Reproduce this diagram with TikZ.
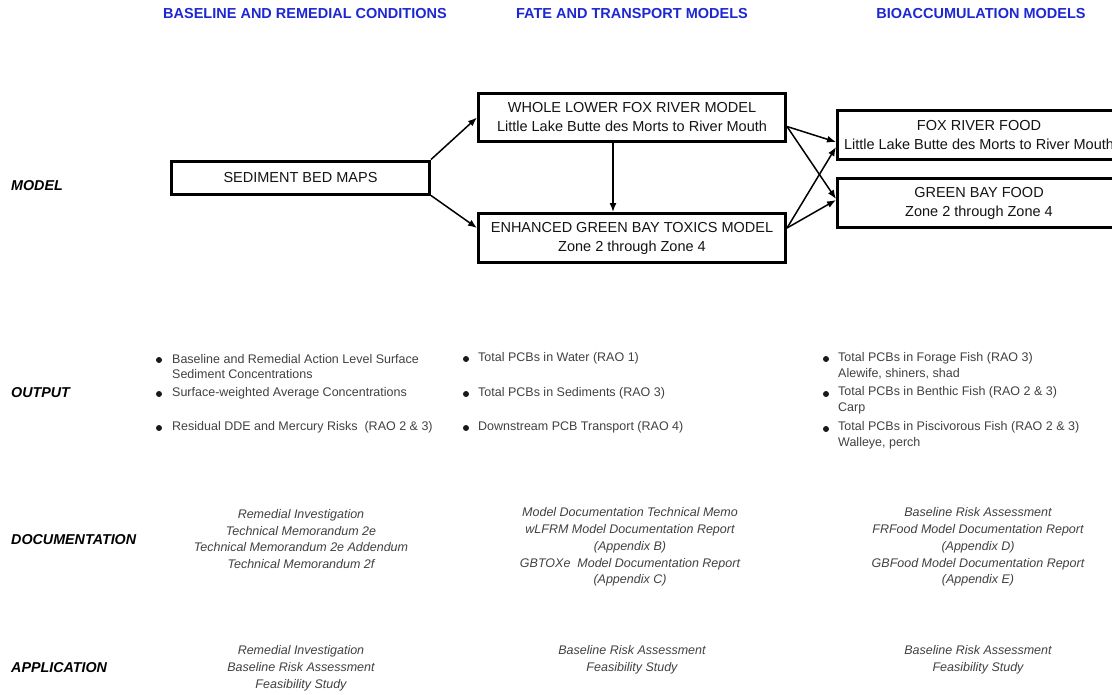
\documentclass[tikz,border=0pt]{standalone}
\usepackage{fontspec}
\setmainfont{Liberation Sans}
\usetikzlibrary{arrows.meta}
\definecolor{hblue}{RGB}{30,40,210}
\definecolor{gtext}{RGB}{65,65,65}
\definecolor{btext}{RGB}{20,20,20}
\tikzset{
  heading/.style={text=hblue, font=\fontsize{14.5}{17}\selectfont\bfseries, inner sep=0pt},
  rowlabel/.style={anchor=west, text=black, font=\fontsize{14.3}{17}\selectfont\bfseries\itshape, inner sep=0pt},
  box/.style={draw=black, line width=3pt, inner sep=0pt, align=center, text=btext,
    font=\fontsize{14.5}{19}\selectfont},
  arr/.style={-{Latex[length=9pt,width=7pt]}, line width=1.5pt, draw=black},
  bul/.style={circle, fill=black!90, inner sep=0pt, minimum size=6pt},
  item/.style={anchor=west, align=left, text=gtext, inner sep=0pt, font=\fontsize{12.5}{15.5}\selectfont},
  doc/.style={align=center, text=gtext, inner sep=0pt, font=\fontsize{12.5}{16.8}\selectfont\itshape}
}
\begin{document}
\begin{tikzpicture}[x=1pt,y=-1pt]
\clip (0,0) rectangle (1112,694);
\fill[white] (0,0) rectangle (1112,694);

% headings
\node[heading] (h1) at (305,14) {BASELINE AND REMEDIAL CONDITIONS};
\node[heading] (h2) at (632,14) {FATE AND TRANSPORT MODELS};
\node[heading] (h3) at (981,14) {BIOACCUMULATION MODELS};

% row labels
\node[rowlabel] (lmodel) at (11,186) {MODEL};
\node[rowlabel] (loutput) at (11,393) {OUTPUT};
\node[rowlabel] (ldoc) at (11,540) {DOCUMENTATION};
\node[rowlabel] (lapp) at (11,668) {APPLICATION};

% model boxes
\node[box, minimum width=258pt, minimum height=33pt] (sed) at (300.5,177.5) {SEDIMENT BED MAPS};
\node[box, minimum width=307pt, minimum height=48.5pt] (whole) at (632,117.5)
  {WHOLE LOWER FOX RIVER MODEL\\Little Lake Butte des Morts to River Mouth};
\node[box, minimum width=307pt, minimum height=49pt] (enh) at (632,238)
  {ENHANCED GREEN BAY TOXICS MODEL\\Zone 2 through Zone 4};
\node[box, minimum width=283pt, minimum height=49pt] (fox) at (979,135)
  {FOX RIVER FOOD\\Little Lake Butte des Morts to River Mouth};
\node[box, minimum width=283pt, minimum height=49pt] (gb) at (979,203)
  {GREEN BAY FOOD\\Zone 2 through Zone 4};

% connectors
\draw[arr] (sed.north east) -- (whole.west);
\draw[arr] (sed.south east) -- ([yshift=10pt]enh.west);
\draw[arr] ([xshift=-19pt]whole.south) -- ([xshift=-19pt]enh.north);
\draw[arr] ([yshift=-9pt]whole.east) -- ([yshift=-7pt]fox.west);
\draw[arr] ([yshift=-9pt]whole.east) -- ([yshift=4pt]gb.west);
\draw[arr] ([yshift=10pt]enh.east) -- ([yshift=-12pt]fox.west);
\draw[arr] ([yshift=10pt]enh.east) -- ([yshift=3pt]gb.west);

% output column 1
\node[bul] (b11) at (159,360) {};
\node[item] (o11) at (172,366.5) {Baseline and Remedial Action Level Surface\\Sediment Concentrations};
\node[bul] (b12) at (159,394) {};
\node[item] (o12) at (172,393) {Surface-weighted Average Concentrations};
\node[bul] (b13) at (159,428) {};
\node[item] (o13) at (172,427) {Residual DDE and Mercury Risks\ \ (RAO 2 \& 3)};

% output column 2
\node[bul] (b21) at (466,359) {};
\node[item] (o21) at (478,358) {Total PCBs in Water (RAO 1)};
\node[bul] (b22) at (466,394) {};
\node[item] (o22) at (478,393) {Total PCBs in Sediments (RAO 3)};
\node[bul] (b23) at (466,428) {};
\node[item] (o23) at (478,427) {Downstream PCB Transport (RAO 4)};

% output column 3
\node[bul] (b31) at (826,359) {};
\node[item] (o31) at (838,366) {Total PCBs in Forage Fish (RAO 3)\\Alewife, shiners, shad};
\node[bul] (b32) at (826,394) {};
\node[item] (o32) at (838,400.5) {Total PCBs in Benthic Fish (RAO 2 \& 3)\\Carp};
\node[bul] (b33) at (826,429) {};
\node[item] (o33) at (838,435.5) {Total PCBs in Piscivorous Fish (RAO 2 \& 3)\\Walleye, perch};

% documentation
\node[doc] (d1) at (301,539) {Remedial Investigation\\Technical Memorandum 2e\\Technical Memorandum 2e Addendum\\Technical Memorandum 2f};
\node[doc] (d2) at (630,547) {Model Documentation Technical Memo\\wLFRM Model Documentation Report\\(Appendix B)\\GBTOXe\ \ Model Documentation Report\\(Appendix C)};
\node[doc] (d3) at (978,547) {Baseline Risk Assessment\\FRFood Model Documentation Report\\(Appendix D)\\GBFood Model Documentation Report\\(Appendix E)};

% application
\node[doc] (a1) at (301,668.5) {Remedial Investigation\\Baseline Risk Assessment\\Feasibility Study};
\node[doc] (a2) at (632,660) {Baseline Risk Assessment\\Feasibility Study};
\node[doc] (a3) at (978,660) {Baseline Risk Assessment\\Feasibility Study};
\end{tikzpicture}
\end{document}
